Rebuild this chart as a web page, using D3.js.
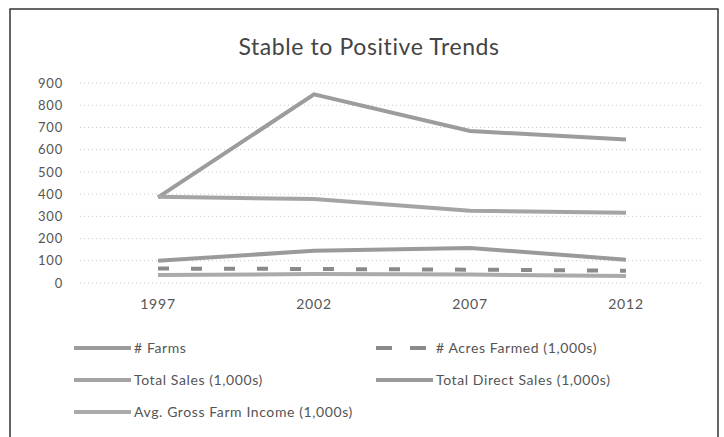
<!DOCTYPE html>
<html><head><meta charset="utf-8">
<script src="https://cdn.jsdelivr.net/npm/d3@7"></script>
<style>body{margin:0;background:#fff}svg text{font-family:Lato,"Liberation Sans",sans-serif}</style>
</head><body><svg id="c" width="724" height="437"></svg>
<script>
const years = ["1997","2002","2007","2012"];
const yTicks = [0,100,200,300,400,500,600,700,800,900];
const farms = [385,849,684,646];
const acres = [65,63,60,55];
const totalSales = [388,378,325,316];
const directSales = [100,145,158,105];
const avgIncome = [36,40,38,32];
const seriesNames = ["# Farms","# Acres Farmed (1,000s)","Total Sales (1,000s)","Total Direct Sales (1,000s)","Avg. Gross Farm Income (1,000s)"];
const seriesVals = [farms, acres, totalSales, directSales, avgIncome];
const colors = ["#9c9c9c","#8a8a8a","#a4a4a4","#9a9a9a","#aaaaaa"];
const dashes = [null,"11,22",null,null,null];

const svg = d3.select("#c");
svg.append("rect").attr("x",10).attr("y",9).attr("width",708).attr("height",440)
  .attr("fill","#fff").attr("stroke","#333").attr("stroke-width",1.5);
svg.append("text").attr("x",369).attr("y",55).attr("text-anchor","middle")
  .attr("font-size",23).attr("letter-spacing",0.6).attr("fill","#444").text("Stable to Positive Trends");

const x = d3.scaleBand().domain(years).range([80,704]);
const y = d3.scaleLinear().domain([0,900]).range([283,83]);

const g = svg.append("g");
g.selectAll("line.grid").data(yTicks).join("line").attr("class","grid")
  .attr("x1",80).attr("x2",704).attr("y1",d=>y(d)).attr("y2",d=>y(d))
  .attr("stroke","#c8c8c8").attr("stroke-width",1).attr("stroke-dasharray","1,3");

const yAxis = svg.append("g").attr("transform","translate(63,0)")
  .call(d3.axisLeft(y).tickValues(yTicks).tickSize(0).tickPadding(0));
yAxis.select(".domain").remove();
yAxis.selectAll("text").attr("font-size",13).attr("letter-spacing",0.8).attr("fill","#555").attr("font-family","Lato,sans-serif");

const xAxis = svg.append("g").attr("transform","translate(0,299)")
  .call(d3.axisBottom(x).tickSize(0).tickPadding(0));
xAxis.select(".domain").remove();
xAxis.selectAll("text").attr("font-size",14).attr("letter-spacing",0.8).attr("fill","#555").attr("font-family","Lato,sans-serif");

const line = d3.line().x((d,i)=>x(years[i])+x.bandwidth()/2).y(d=>y(d));
seriesVals.forEach((vals,i)=>{
  svg.append("path").datum(vals).attr("d",line).attr("fill","none")
    .attr("stroke",colors[i]).attr("stroke-width",4)
    .attr("stroke-dasharray",dashes[i]);
});

const legPos = [[74,348],[376,348],[74,380],[376,380],[74,412]];
seriesNames.forEach((n,i)=>{
  const [lx,ly] = legPos[i];
  svg.append("line").attr("x1",lx).attr("x2",lx+57).attr("y1",ly).attr("y2",ly)
    .attr("stroke",colors[i]).attr("stroke-width",4)
    .attr("stroke-dasharray",i===1?"16,18":null);
  svg.append("text").attr("x",lx+60).attr("y",ly+5).attr("font-size",14)
    .attr("letter-spacing",0.6).attr("fill","#555").text(n);
});
</script></body></html>
